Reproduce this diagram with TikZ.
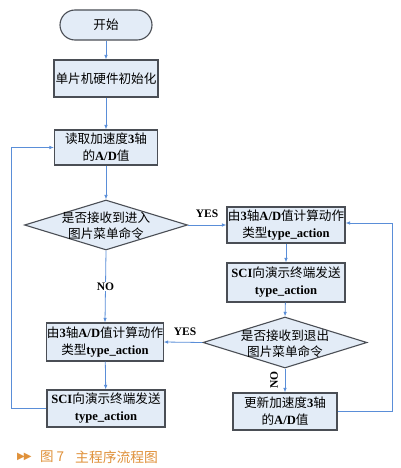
\documentclass[tikz,border=0pt]{standalone}
\usepackage{fontspec}
\setmainfont{Liberation Serif}
\newfontfamily\cjk{Noto Sans CJK SC}
\newfontfamily\symf{DejaVu Sans}
\usetikzlibrary{shapes.geometric,arrows.meta}
\definecolor{boxfill}{HTML}{E3ECF7}
\definecolor{boxline}{HTML}{4A4E55}
\definecolor{flow}{HTML}{5A8ED8}
\definecolor{capcol}{HTML}{E0913A}
\newcommand\zh[1]{{\cjk #1}}
\newcommand\lb[1]{\textbf{#1}}
\begin{document}
\begin{tikzpicture}[x=1pt,y=-1pt,
  box/.style={draw=boxline,fill=boxfill,line width=1.1pt,minimum width=#1,align=center,inner sep=0pt,font=\fontsize{12.6}{17}\selectfont},
  term/.style={draw=boxline,fill=boxfill,line width=1.1pt,rounded corners=15pt,minimum width=92pt,minimum height=30pt,inner sep=0pt,font=\fontsize{12.6}{17}\selectfont},
  dia/.style={draw=boxline,fill=boxfill,line width=1.1pt,diamond,inner sep=0pt,minimum width=#1},
  txt/.style={align=center,inner sep=0pt,font=\fontsize{12.6}{16}\selectfont},
  lbl/.style={inner sep=0pt,font=\fontsize{11.5}{13}\selectfont\bfseries},
  arr/.style={draw=flow,line width=0.8pt,-{Latex[length=4.5pt,width=3.5pt]}},
  captext/.style={inner sep=0pt,anchor=west,text=capcol}]
\useasboundingbox (0,0) rectangle (400,468);
\fill[white] (0,0) rectangle (400,468);
% nodes
\node[term] (start) at (106,25) {\zh{开始}};
\node[box=104pt,minimum height=37pt] (b1) at (106,78.5) {\zh{单片机硬件初始化}};
\node[box=103pt,minimum height=35pt] (b2) at (106,147.5) {\zh{读取加速度}\lb{3}\zh{轴}\\\zh{的}\lb{A/D}\zh{值}};
\node[dia=163pt,minimum height=50pt] (d1) at (106,225) {};
\node[txt] (d1t) at (106,226) {\zh{是否接收到进入}\\\zh{图片菜单命令}};
\node[box=116pt,minimum height=38pt] (b3) at (105,342) {\zh{由}\lb{3}\zh{轴}\lb{A/D}\zh{值计算动作}\\\zh{类型}\lb{type\_action}};
\node[box=118pt,minimum height=37pt] (b4) at (106,408.5) {\lb{SCI}\zh{向演示终端发送}\\\lb{type\_action}};
\node[box=118pt,minimum height=36pt] (b5) at (286,225) {\zh{由}\lb{3}\zh{轴}\lb{A/D}\zh{值计算动作}\\\zh{类型}\lb{type\_action}};
\node[box=118pt,minimum height=39pt] (b6) at (286,282.5) {\lb{SCI}\zh{向演示终端发送}\\\lb{type\_action}};
\node[dia=164pt,minimum height=51pt] (d2) at (285,342.5) {};
\node[txt] (d2t) at (285,343.5) {\zh{是否接收到退出}\\\zh{图片菜单命令}};
\node[box=104pt,minimum height=37pt] (b7) at (285,411.5) {\zh{更新加速度}\lb{3}\zh{轴}\\\zh{的}\lb{A/D}\zh{值}};
% connectors
\draw[arr] (start) -- (b1);
\draw[arr] (b1) -- (b2);
\draw[arr] (b2) -- (d1);
\draw[arr] (d1.south) -- node[lbl,fill=white,inner sep=1pt] (no1) {NO} (b3.north);
\draw[arr] (b3) -- (b4);
\draw[arr] (b4.west) -- ++(-35,0) |- (b2.west);
\draw[arr] (d1.east) -- (b5.west);
\node[lbl] (yes1) at (207,214) {YES};
\draw[arr] (b5) -- (b6);
\draw[arr] (b6) -- (d2.north);
\draw[arr] (d2.west) -- (b3.east);
\node[lbl] (yes2) at (185,332) {YES};
\draw[arr] (d2.south) -- (b7.north);
\node[lbl,rotate=90] (no2) at (274,380) {NO};
\draw[arr] ([yshift=0.5pt]b7.east) -- ++(55,0) |- ([yshift=2pt]b5.east);
% caption
\node[captext,font=\fontsize{10}{12}\selectfont\symf] (c1) at (17,457) {▶\kern-1pt▶};
\node[captext,font=\fontsize{13.5}{15}\selectfont\cjk] (c2) at (40,457) {图 7};
\node[captext,font=\fontsize{13.8}{15}\selectfont\cjk] (c3) at (75,457) {主程序流程图};
\end{tikzpicture}
\end{document}
